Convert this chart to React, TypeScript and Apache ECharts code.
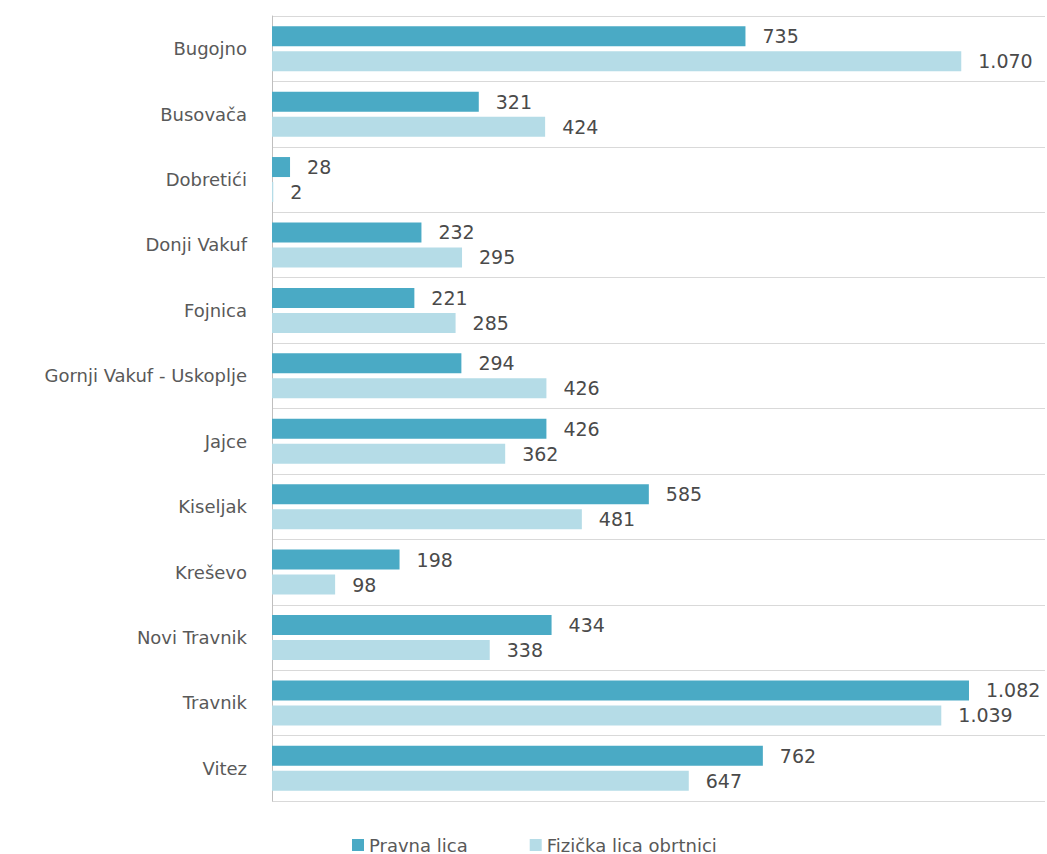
import React, { useEffect, useRef } from "react";
import * as echarts from "echarts";

const categories = [
  "Bugojno",
  "Busovača",
  "Dobretići",
  "Donji Vakuf",
  "Fojnica",
  "Gornji Vakuf - Uskoplje",
  "Jajce",
  "Kiseljak",
  "Kreševo",
  "Novi Travnik",
  "Travnik",
  "Vitez",
];
const pravnaLica = [735, 321, 28, 232, 221, 294, 426, 585, 198, 434, 1082, 762];
const fizickaLica = [1070, 424, 2, 295, 285, 426, 362, 481, 98, 338, 1039, 647];
const seriesNames = ["Pravna lica", "Fizička lica obrtnici"];

const FONT = "'DejaVu Sans', sans-serif";

function fmt(v: number): string {
  return String(v).replace(/\B(?=(\d{3})+(?!\d))/g, ".");
}

export default function App() {
  const ref = useRef<HTMLDivElement>(null);
  useEffect(() => {
    if (!ref.current) return;
    const chart = echarts.init(ref.current, undefined, { renderer: "svg" });
    const labelStyle = {
      show: true,
      position: "right" as const,
      distance: 17,
      color: "#4a4a4a",
      fontSize: 19,
      fontFamily: FONT,
      formatter: (p: any) => fmt(p.value),
    };
    chart.setOption({
      animation: false,
      backgroundColor: "#ffffff",
      textStyle: { fontFamily: FONT },
      legend: {
        data: seriesNames,
        top: 836,
        left: 352,
        padding: 0,
        itemWidth: 12,
        itemHeight: 12,
        itemGap: 62,
        icon: "rect",
        textStyle: {
          color: "#595959",
          fontSize: 18,
          lineHeight: 18,
          fontFamily: FONT,
        },
      },
      grid: { left: 272, right: 2, top: 16, height: 785, containLabel: false },
      xAxis: {
        type: "value",
        min: 0,
        max: 1200,
        show: false,
        splitLine: { show: false },
      },
      yAxis: {
        type: "category",
        data: categories,
        inverse: true,
        axisLine: { show: true, lineStyle: { color: "#bfbfbf", width: 1 } },
        axisTick: { show: false },
        splitLine: { show: true, lineStyle: { color: "#d9d9d9", width: 1 } },
        axisLabel: {
          color: "#595959",
          fontSize: 18,
          fontFamily: FONT,
          margin: 25,
        },
      },
      series: [
        {
          name: seriesNames[0],
          type: "bar",
          data: pravnaLica,
          barWidth: 20,
          barGap: "25%",
          itemStyle: { color: "#4aaac5" },
          label: labelStyle,
        },
        {
          name: seriesNames[1],
          type: "bar",
          data: fizickaLica,
          barWidth: 20,
          barGap: "25%",
          itemStyle: { color: "#b5dce7" },
          label: labelStyle,
        },
      ],
    });
    return () => chart.dispose();
  }, []);
  return (
    <div
      ref={ref}
      style={{ position: "fixed", left: 0, top: 0, width: 1047, height: 854 }}
    />
  );
}
